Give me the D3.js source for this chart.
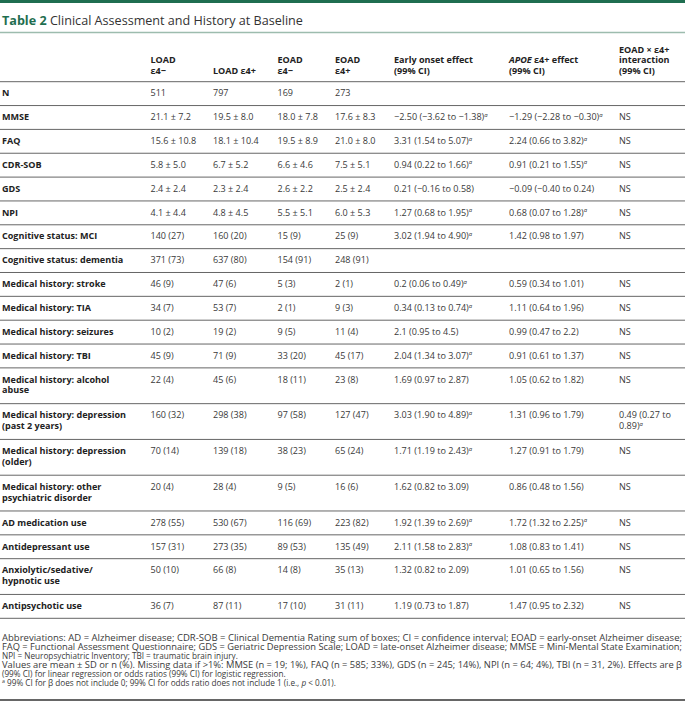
<!DOCTYPE html>
<html>
<head>
<meta charset="utf-8">
<script src="https://cdn.jsdelivr.net/npm/d3@7"></script>
<style>
  html, body { margin: 0; padding: 0; background: #fff; }
  svg text { font-family: "Open Sans", "Noto Sans", sans-serif; }
</style>
</head>
<body>
<svg id="chart" width="685" height="705"></svg>
<script>
// ---------------- DATA ----------------
const titleLabel = "Table 2";
const titleText = "Clinical Assessment and History at Baseline";

const colHeaders = [
  "LOAD\nε4−",
  "LOAD ε4+",
  "EOAD\nε4−",
  "EOAD\nε4+",
  "Early onset effect\n(99% CI)",
  "APOE ε4+ effect\n(99% CI)",
  "EOAD × ε4+\ninteraction\n(99% CI)"
];

const rowLabels = [
  "N", "MMSE", "FAQ", "CDR-SOB", "GDS", "NPI",
  "Cognitive status: MCI", "Cognitive status: dementia",
  "Medical history: stroke", "Medical history: TIA", "Medical history: seizures", "Medical history: TBI",
  "Medical history: alcohol\nabuse", "Medical history: depression\n(past 2 years)",
  "Medical history: depression\n(older)", "Medical history: other\npsychiatric disorder",
  "AD medication use", "Antidepressant use", "Anxiolytic/sedative/\nhypnotic use", "Antipsychotic use"
];

const loadNeg = ["511", "21.1 ± 7.2", "15.6 ± 10.8", "5.8 ± 5.0", "2.4 ± 2.4", "4.1 ± 4.4",
  "140 (27)", "371 (73)", "46 (9)", "34 (7)", "10 (2)", "45 (9)", "22 (4)", "160 (32)",
  "70 (14)", "20 (4)", "278 (55)", "157 (31)", "50 (10)", "36 (7)"];
const loadPos = ["797", "19.5 ± 8.0", "18.1 ± 10.4", "6.7 ± 5.2", "2.3 ± 2.4", "4.8 ± 4.5",
  "160 (20)", "637 (80)", "47 (6)", "53 (7)", "19 (2)", "71 (9)", "45 (6)", "298 (38)",
  "139 (18)", "28 (4)", "530 (67)", "273 (35)", "66 (8)", "87 (11)"];
const eoadNeg = ["169", "18.0 ± 7.8", "19.5 ± 8.9", "6.6 ± 4.6", "2.6 ± 2.2", "5.5 ± 5.1",
  "15 (9)", "154 (91)", "5 (3)", "2 (1)", "9 (5)", "33 (20)", "18 (11)", "97 (58)",
  "38 (23)", "9 (5)", "116 (69)", "89 (53)", "14 (8)", "17 (10)"];
const eoadPos = ["273", "17.6 ± 8.3", "21.0 ± 8.0", "7.5 ± 5.1", "2.5 ± 2.4", "6.0 ± 5.3",
  "25 (9)", "248 (91)", "2 (1)", "9 (3)", "11 (4)", "45 (17)", "23 (8)", "127 (47)",
  "65 (24)", "16 (6)", "223 (82)", "135 (49)", "35 (13)", "31 (11)"];

const earlyEffect = ["", "−2.50 (−3.62 to −1.38)", "3.31 (1.54 to 5.07)", "0.94 (0.22 to 1.66)",
  "0.21 (−0.16 to 0.58)", "1.27 (0.68 to 1.95)", "3.02 (1.94 to 4.90)", "",
  "0.2 (0.06 to 0.49)", "0.34 (0.13 to 0.74)", "2.1 (0.95 to 4.5)", "2.04 (1.34 to 3.07)",
  "1.69 (0.97 to 2.87)", "3.03 (1.90 to 4.89)", "1.71 (1.19 to 2.43)", "1.62 (0.82 to 3.09)",
  "1.92 (1.39 to 2.69)", "2.11 (1.58 to 2.83)", "1.32 (0.82 to 2.09)", "1.19 (0.73 to 1.87)"];
const earlySig = [0,1,1,1,0,1,1,0,1,1,0,1,0,1,1,0,1,1,0,0];

const apoeEffect = ["", "−1.29 (−2.28 to −0.30)", "2.24 (0.66 to 3.82)", "0.91 (0.21 to 1.55)",
  "−0.09 (−0.40 to 0.24)", "0.68 (0.07 to 1.28)", "1.42 (0.98 to 1.97)", "",
  "0.59 (0.34 to 1.01)", "1.11 (0.64 to 1.96)", "0.99 (0.47 to 2.2)", "0.91 (0.61 to 1.37)",
  "1.05 (0.62 to 1.82)", "1.31 (0.96 to 1.79)", "1.27 (0.91 to 1.79)", "0.86 (0.48 to 1.56)",
  "1.72 (1.32 to 2.25)", "1.08 (0.83 to 1.41)", "1.01 (0.65 to 1.56)", "1.47 (0.95 to 2.32)"];
const apoeSig = [0,1,1,1,0,1,0,0,0,0,0,0,0,0,0,0,1,0,0,0];

const interaction = ["", "NS", "NS", "NS", "NS", "NS", "NS", "", "NS", "NS", "NS", "NS", "NS",
  "0.49 (0.27 to\n0.89)", "NS", "NS", "NS", "NS", "NS", "NS"];
const interSig = [0,0,0,0,0,0,0,0,0,0,0,0,0,1,0,0,0,0,0,0];

const footnotes = [
  "Abbreviations: AD = Alzheimer disease; CDR-SOB = Clinical Dementia Rating sum of boxes; CI = confidence interval; EOAD = early-onset Alzheimer disease;",
  "FAQ = Functional Assessment Questionnaire; GDS = Geriatric Depression Scale; LOAD = late-onset Alzheimer disease; MMSE = Mini-Mental State Examination;",
  "NPI = Neuropsychiatric Inventory; TBI = traumatic brain injury.",
  "Values are mean ± SD or n (%). Missing data if >1%: MMSE (n = 19; 1%), FAQ (n = 585; 33%), GDS (n = 245; 14%), NPI (n = 64; 4%), TBI (n = 31, 2%). Effects are β",
  "(99% CI) for linear regression or odds ratios (99% CI) for logistic regression.",
  "99% CI for β does not include 0; 99% CI for odds ratio does not include 1 (i.e., p < 0.01)."
];
const justifiedFootnotes = [true, true, false, true, false, false];

// ---------------- LAYOUT ----------------
const W = 685, H = 705;
const svg = d3.select("#chart");
const colX = [150.5, 213, 277.5, 335, 394, 509, 619];
const bodySize = 9.05;
const lineStep = 10.7;
const textColor = "#3a3a3a";
const labelColor = "#222";
const green = "#1f6e50";

const columns = [loadNeg, loadPos, eoadNeg, eoadPos, earlyEffect, apoeEffect, interaction];
const sigs = [null, null, null, null, earlySig, apoeSig, interSig];

const rows = rowLabels.map((lab, i) => {
  const nLines = d3.max([lab, ...columns.map(c => c[i])], s => s.split("\n").length);
  return { i, lab, nLines, units: 1 + 0.5 * (nLines - 1) };
});
const cum = [0, ...d3.cumsum(rows, r => r.units)];
const y = d3.scaleLinear().domain([0, cum[cum.length - 1]]).range([81.7, 618.3]);

// top green bar
svg.append("rect").attr("x", 0).attr("y", 0).attr("width", W).attr("height", 3).attr("fill", green);

// title
const t = svg.append("text").attr("x", 2).attr("y", 24.5).attr("font-size", 12.6);
t.append("tspan").attr("fill", green).attr("font-weight", 700).text(titleLabel);
t.append("tspan").attr("fill", "#333").text(" " + titleText);

svg.append("line").attr("x1", 0).attr("x2", W).attr("y1", 32.5).attr("y2", 32.5)
  .attr("stroke", "#9dbcae").attr("stroke-width", 1.5);

// multi-line text helper: one <text>, one <tspan> per line
function multiText(parent, x, y0, str, opts) {
  const lines = str.split("\n");
  const tt = parent.append("text").attr("x", x).attr("y", y0)
    .attr("font-size", bodySize).attr("fill", opts.fill);
  if (opts.bold) tt.attr("font-weight", 700);
  lines.forEach((ln, k) => {
    const first = tt.append("tspan").attr("x", x).attr("dy", k === 0 ? 0 : opts.step);
    const parts = ln.split(/(APOE)/).filter(p => p);
    parts.forEach((p, j) => {
      const target = j === 0 ? first : tt.append("tspan");
      target.text(p);
      if (p === "APOE") target.attr("font-style", "italic");
    });
    if (opts.sup && k === lines.length - 1) {
      tt.append("tspan").attr("font-size", 6).attr("font-style", "italic")
        .attr("dy", -3.5).text("a");
    }
  });
  return tt;
}

// headers (bottom aligned)
const headerBottom = 70.5, headerStep = 10.6;
colHeaders.forEach((h, c) => {
  const n = h.split("\n").length;
  multiText(svg, colX[c], headerBottom - (n - 1) * headerStep + 3.2, h,
    { fill: labelColor, bold: true, step: headerStep });
});

// rules
svg.selectAll("line.rule").data(cum).join("line").attr("class", "rule")
  .attr("x1", 0).attr("x2", W)
  .attr("y1", d => y(d)).attr("y2", d => y(d))
  .attr("stroke", "#666").attr("stroke-width", 1);

// rows
const rowG = svg.selectAll("g.row").data(rows).join("g").attr("class", "row")
  .attr("transform", d => `translate(0,${y(cum[d.i])})`);

rowG.each(function(d) {
  const g = d3.select(this);
  multiText(g, 2, 14.7, d.lab, { fill: labelColor, bold: true, step: lineStep });
  columns.forEach((col, c) => {
    const val = col[d.i];
    if (!val) return;
    multiText(g, colX[c], 14.7, val,
      { fill: textColor, step: lineStep, sup: !!(sigs[c] && sigs[c][d.i]) });
  });
});

// footnotes: one text element, one line per tspan
const fnSize = 8.2;
const fnY0 = 638.3, fnStep = 9;
const fn = svg.append("text").attr("x", 2).attr("y", fnY0 + 2.9)
  .attr("font-size", fnSize).attr("fill", textColor);
footnotes.forEach((f, k) => {
  if (k === 5) {
    fn.append("tspan").attr("x", 2).attr("dy", fnStep - 3).attr("font-size", 5.3).text("a");
    const parts = f.split(/(p <)/);
    fn.append("tspan").attr("dy", 3).text(" " + parts[0]);
    fn.append("tspan").attr("font-style", "italic").text("p");
    fn.append("tspan").text(" <" + parts[2]);
  } else {
    const ts = fn.append("tspan").attr("x", 2).attr("dy", k === 0 ? 0 : fnStep).text(f);
    if (justifiedFootnotes[k]) {
      ts.attr("textLength", 680).attr("lengthAdjust", "spacingAndGlyphs");
    }
  }
});

svg.append("line").attr("x1", 0).attr("x2", W).attr("y1", 700).attr("y2", 700)
  .attr("stroke", "#333").attr("stroke-width", 1.5);
</script>
</body>
</html>
